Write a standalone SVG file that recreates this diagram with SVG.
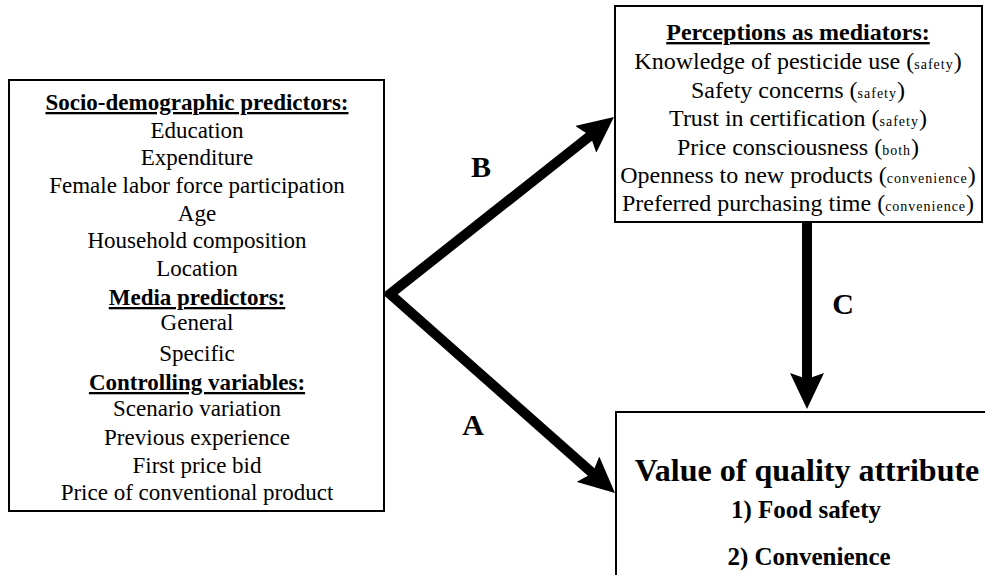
<svg xmlns="http://www.w3.org/2000/svg" width="985" height="575" viewBox="0 0 985 575">
<style>
.box{fill:#fff;stroke:#000;stroke-width:2}
text{font-family:"Liberation Serif","Times New Roman",serif;fill:#000;text-anchor:middle}
.l{font-size:23px}
.t{font-size:24px}
.h{font-weight:bold;text-decoration:underline}
.s{font-size:14px;letter-spacing:1px}
.lab{font-size:30px;font-weight:bold}
.big{font-size:32px;font-weight:bold}
.mid{font-size:25px;font-weight:bold}
.arrow{fill:none;stroke:#000;stroke-width:10;stroke-linejoin:miter;stroke-miterlimit:10}
</style>
<defs>
<marker id="head" viewBox="-36 -17 36 34" refX="-28" refY="0" markerWidth="36" markerHeight="34" markerUnits="userSpaceOnUse" orient="auto-start-reverse">
<path d="M0,0 L-36,-17 L-30,0 L-36,17 Z" fill="#000"/>
</marker>
</defs>
<g id="connectors">
<path id="AB" class="arrow" d="M592,134.4 L390,294 L594,474.5" marker-start="url(#head)" marker-end="url(#head)"/>
<path id="C" class="arrow" d="M807,222 L807,381" marker-end="url(#head)"/>
<text class="lab" x="481" y="177">B</text>
<text class="lab" x="473" y="435">A</text>
<text class="lab" x="843" y="314">C</text>
</g>
<g id="predictors">
<rect class="box" x="9" y="80" width="375" height="431"/>
<text class="l h" x="197" y="110">Socio-demographic predictors:</text>
<text class="l" x="197" y="138">Education</text>
<text class="l" x="197" y="165">Expenditure</text>
<text class="l" x="197" y="193">Female labor force participation</text>
<text class="l" x="197" y="221">Age</text>
<text class="l" x="197" y="248">Household composition</text>
<text class="l" x="197" y="276">Location</text>
<text class="l h" x="197" y="305">Media predictors:</text>
<text class="l" x="197" y="330">General</text>
<text class="l" x="197" y="361">Specific</text>
<text class="l h" x="197" y="390">Controlling variables:</text>
<text class="l" x="197" y="416">Scenario variation</text>
<text class="l" x="197" y="445">Previous experience</text>
<text class="l" x="197" y="473">First price bid</text>
<text class="l" x="197" y="500">Price of conventional product</text>
</g>
<g id="mediators">
<rect class="box" x="615" y="6" width="367" height="216"/>
<text class="t h" x="798" y="40">Perceptions as mediators:</text>
<text class="t" x="798" y="69">Knowledge of pesticide use (<tspan class="s">safety</tspan>)</text>
<text class="t" x="798" y="98">Safety concerns (<tspan class="s">safety</tspan>)</text>
<text class="t" x="798" y="126">Trust in certification (<tspan class="s">safety</tspan>)</text>
<text class="t" x="798" y="155">Price consciousness (<tspan class="s">both</tspan>)</text>
<text class="t" x="798" y="183">Openness to new products (<tspan class="s">convenience</tspan>)</text>
<text class="t" x="798" y="211">Preferred purchasing time (<tspan class="s">convenience</tspan>)</text>
</g>
<g id="value">
<rect class="box" x="616" y="412" width="400" height="200"/>
<text class="big" x="807" y="481">Value of quality attribute</text>
<text class="mid" x="806" y="518">1) Food safety</text>
<text class="mid" x="809" y="565">2) Convenience</text>
</g>
</svg>
